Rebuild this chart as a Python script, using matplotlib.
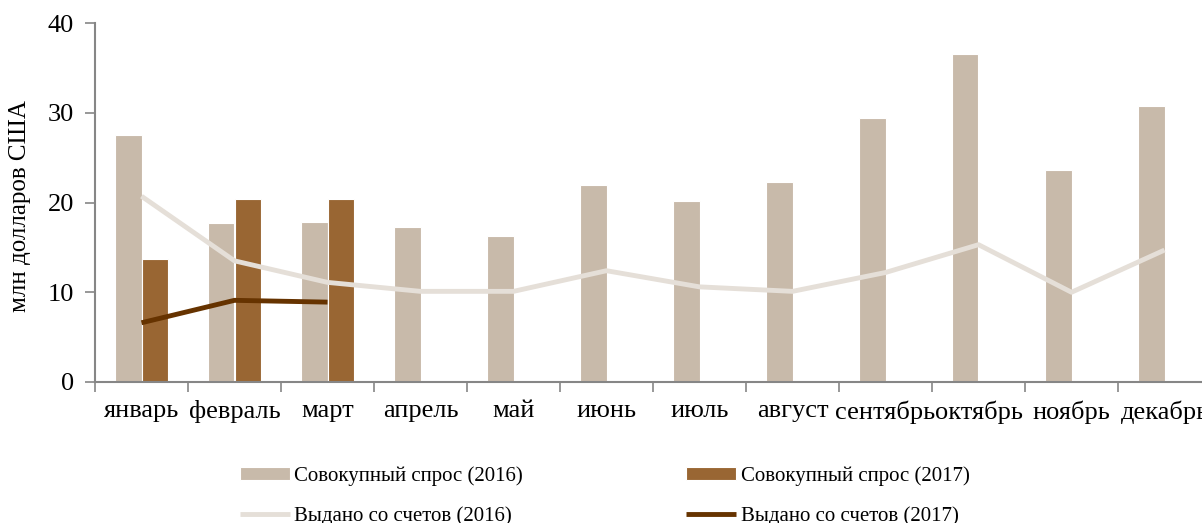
import matplotlib
matplotlib.use("Agg")
import matplotlib.pyplot as plt
import numpy as np

months = ["январь", "февраль", "март", "апрель", "май", "июнь", "июль",
          "август", "сентябрь", "октябрь", "ноябрь", "декабрь"]
demand_2016 = [27.5, 17.7, 17.8, 17.3, 16.3, 21.9, 20.2, 22.3, 29.4, 36.6, 23.6, 30.8]
demand_2017 = [13.7, 20.4, 20.4]
issued_2016 = [20.7, 13.5, 11.1, 10.1, 10.1, 12.4, 10.6, 10.1, 12.2, 15.3, 10.0, 14.7]
issued_2017 = [6.6, 9.1, 8.9]
yticks = [0, 10, 20, 30, 40]

plt.rcParams['font.family'] = ['Liberation Serif', 'DejaVu Serif']

W, H = 1202, 523
fig = plt.figure(figsize=(W / 100, H / 100), dpi=100)
ax = fig.add_axes([95 / W, (H - 382) / H, 1116 / W, (382 - 23) / H])

x = np.arange(len(months))
bw = 0.28
c16, c17 = "#C8BAAA", "#996633"
l16, l17 = "#E5DFD8", "#663300"

b1 = ax.bar(x - bw / 2, demand_2016, bw, color=c16, edgecolor="white", linewidth=0.8, zorder=2)
x17 = np.arange(len(demand_2017))
b2 = ax.bar(x17 + bw / 2, demand_2017, bw, color=c17, edgecolor="white", linewidth=0.8, zorder=2)
ln1, = ax.plot(x, issued_2016, color=l16, lw=3.5, zorder=3, solid_capstyle="butt")
ln2, = ax.plot(x17, issued_2017, color=l17, lw=3.5, zorder=4, solid_capstyle="butt")

ax.set_xlim(-0.5, len(months) - 0.5)
ax.set_ylim(0, 40)
ax.set_yticks(yticks)
ax.tick_params(axis="y", labelsize=19, length=7, color="#868686", width=1.2, pad=8)
ax.set_xticks(np.arange(-0.5, len(months), 1.0))
ax.set_xticklabels([])
ax.set_xticks(x, minor=True)
ax.set_xticklabels(months, minor=True, fontsize=19)
ax.tick_params(axis="x", which="minor", length=0, pad=13)
ax.tick_params(axis="x", which="major", length=7, color="#868686", width=1.2)

for s in ["top", "right"]:
    ax.spines[s].set_visible(False)
for s in ["left", "bottom"]:
    ax.spines[s].set_color("#868686")
    ax.spines[s].set_linewidth(1.5)

ax.set_ylabel("млн долларов США", fontsize=18)
ax.yaxis.set_label_coords(-(95 - 31) / 1116, 0.49)

leg = fig.legend([b1, ln1, b2, ln2],
                 ["Совокупный спрос (2016)", "Выдано со счетов (2016)",
                  "Совокупный спрос (2017)", "Выдано со счетов (2017)"],
                 ncol=2, loc="upper left", bbox_to_anchor=(240 / W, 1 - 466 / H),
                 frameon=False, fontsize=15, handlelength=2.4, handleheight=0.55,
                 handletextpad=0.2, columnspacing=7.85, labelspacing=1.0,
                 borderaxespad=0, borderpad=0)

fig.savefig("out.png", dpi=100)
